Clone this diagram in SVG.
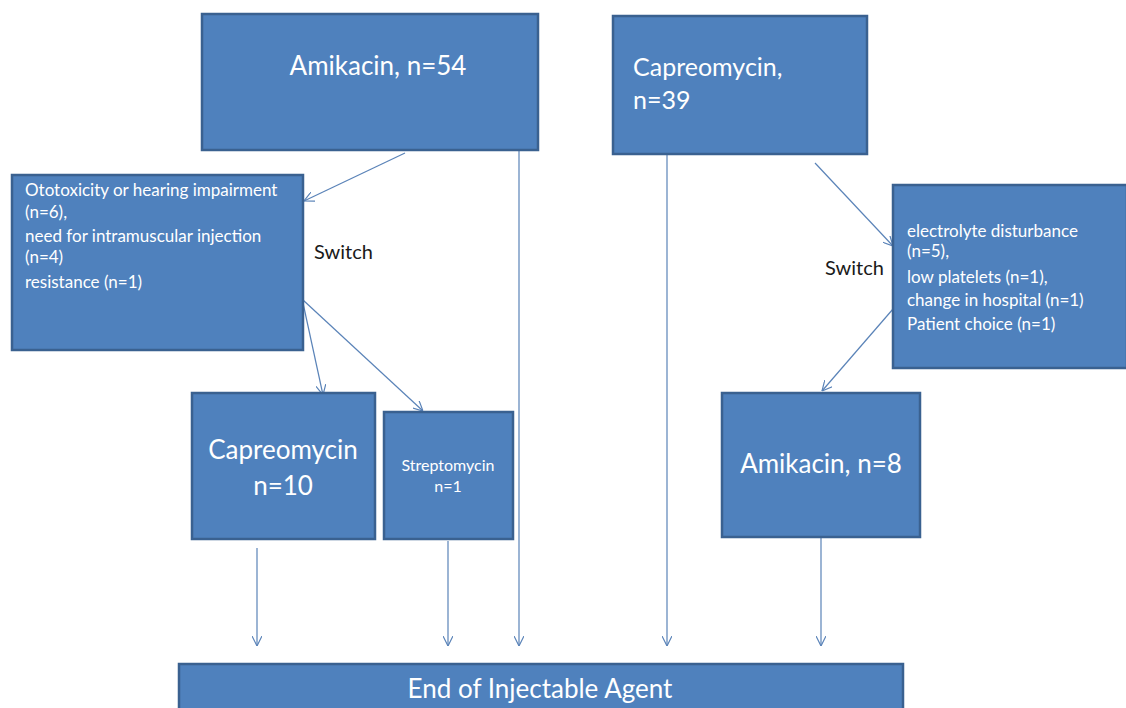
<svg xmlns="http://www.w3.org/2000/svg" width="1126" height="708" viewBox="0 0 1126 708">
<defs>
<style>
.box{fill:#4F81BD;stroke:#3A6190;stroke-width:2.5}
.t{font-family:Lato,"Open Sans",sans-serif;fill:#FFFFFF}
.lbl{font-family:Lato,"Open Sans",sans-serif;fill:#1a1a1a;font-size:20px}
.c{stroke:#5A83B8;stroke-width:1.2;fill:none}
</style>
<marker id="ah" viewBox="0 0 10 10" refX="10" refY="5" markerWidth="10" markerHeight="10" markerUnits="userSpaceOnUse" orient="auto">
<path d="M0,0 L10,5 L0,10" fill="none" stroke="#5A83B8" stroke-width="1.2"/>
</marker>
</defs>
<rect width="1126" height="708" fill="#FFFFFF"/>
<g id="connectors">
<line class="c" x1="405" y1="153" x2="304" y2="201" marker-end="url(#ah)"/>
<line class="c" x1="303" y1="303" x2="323" y2="395" marker-end="url(#ah)"/>
<line class="c" x1="303" y1="300" x2="423" y2="411" marker-end="url(#ah)"/>
<line class="c" x1="815" y1="163" x2="893" y2="246" marker-end="url(#ah)"/>
<line class="c" x1="893" y1="309" x2="822" y2="391" marker-end="url(#ah)"/>
<line class="c" x1="257" y1="548" x2="257" y2="646" marker-end="url(#ah)"/>
<line class="c" x1="448" y1="541" x2="448" y2="646" marker-end="url(#ah)"/>
<line class="c" x1="519" y1="150" x2="519" y2="646" marker-end="url(#ah)"/>
<line class="c" x1="667" y1="154" x2="667" y2="646" marker-end="url(#ah)"/>
<line class="c" x1="821" y1="538" x2="821" y2="646" marker-end="url(#ah)"/>
</g>
<g id="amikacin54">
<rect class="box" x="202" y="14" width="336" height="136"/>
<text class="t" x="378" y="75" font-size="26" text-anchor="middle">Amikacin, n=54</text>
</g>
<g id="capreomycin39">
<rect class="box" x="613" y="16" width="254" height="138"/>
<text class="t" x="633" y="76" font-size="25">Capreomycin,</text>
<text class="t" x="633" y="109" font-size="25">n=39</text>
</g>
<g id="reasons-left">
<rect class="box" x="12" y="175" width="291" height="175"/>
<text class="t" font-size="17"><tspan x="25" y="196">Ototoxicity or hearing impairment</tspan><tspan x="25" y="218">(n=6),</tspan><tspan x="25" y="242">need for intramuscular injection</tspan><tspan x="25" y="263">(n=4)</tspan><tspan x="25" y="288">resistance (n=1)</tspan></text>
</g>
<g id="switch-left">
<text class="lbl" x="314" y="259">Switch</text>
</g>
<g id="reasons-right">
<rect class="box" x="893" y="185" width="234" height="183"/>
<text class="t" font-size="17"><tspan x="907" y="237">electrolyte disturbance</tspan><tspan x="907" y="257">(n=5),</tspan><tspan x="907" y="283">low platelets (n=1),</tspan><tspan x="907" y="306">change in hospital (n=1)</tspan><tspan x="907" y="330">Patient choice (n=1)</tspan></text>
</g>
<g id="switch-right">
<text class="lbl" x="825" y="275">Switch</text>
</g>
<g id="capreomycin10">
<rect class="box" x="192" y="393" width="183" height="146"/>
<text class="t" x="283" y="459" font-size="26" text-anchor="middle">Capreomycin</text>
<text class="t" x="283" y="495" font-size="26" text-anchor="middle">n=10</text>
</g>
<g id="streptomycin1">
<rect class="box" x="384" y="412" width="129" height="127"/>
<text class="t" x="448" y="471" font-size="16" text-anchor="middle">Streptomycin</text>
<text class="t" x="448" y="492" font-size="16" text-anchor="middle">n=1</text>
</g>
<g id="amikacin8">
<rect class="box" x="722" y="393" width="198" height="144"/>
<text class="t" x="821" y="473" font-size="26" text-anchor="middle">Amikacin, n=8</text>
</g>
<g id="end">
<rect class="box" x="179" y="664" width="724" height="50"/>
<text class="t" x="540" y="698" font-size="26" text-anchor="middle">End of Injectable Agent</text>
</g>
</svg>
